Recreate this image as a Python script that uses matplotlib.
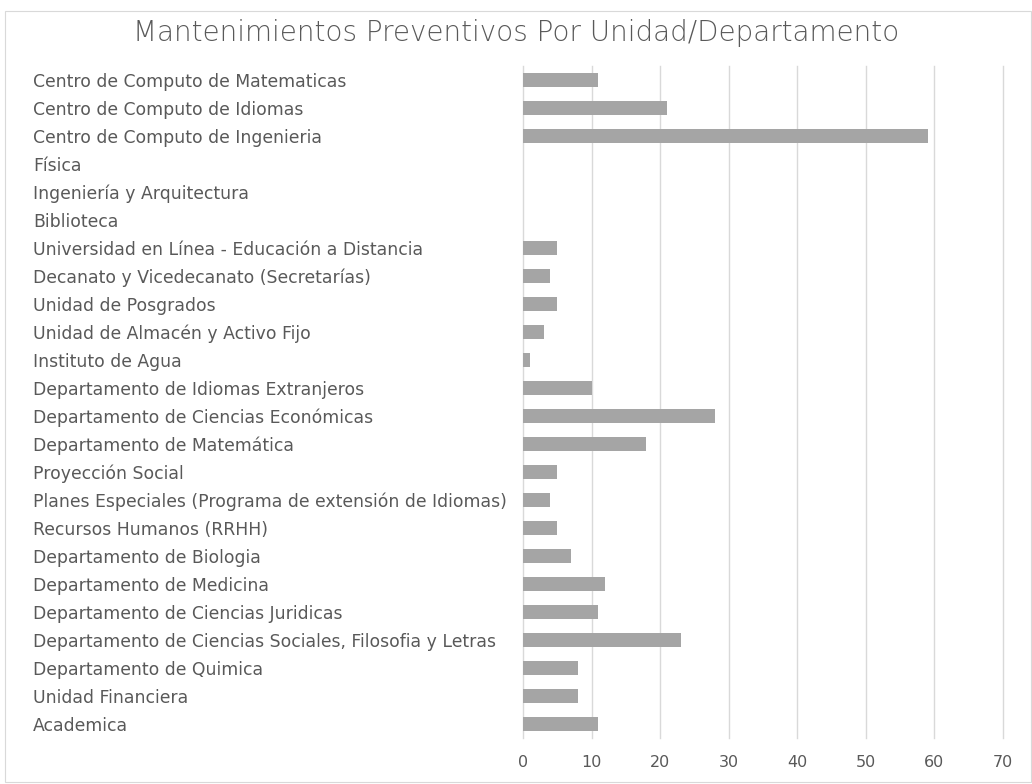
import matplotlib.pyplot as plt
from matplotlib.patches import Rectangle

# categories (top to bottom as shown)
categories = [
    "Centro de Computo de Matematicas",
    "Centro de Computo de Idiomas",
    "Centro de Computo de Ingenieria",
    "Física",
    "Ingeniería y Arquitectura",
    "Biblioteca",
    "Universidad en Línea - Educación a Distancia",
    "Decanato y Vicedecanato (Secretarías)",
    "Unidad de Posgrados",
    "Unidad de Almacén y Activo Fijo",
    "Instituto de Agua",
    "Departamento de Idiomas Extranjeros",
    "Departamento de Ciencias Económicas",
    "Departamento de Matemática",
    "Proyección Social",
    "Planes Especiales (Programa de extensión de Idiomas)",
    "Recursos Humanos (RRHH)",
    "Departamento de Biologia",
    "Departamento de Medicina",
    "Departamento de Ciencias Juridicas",
    "Departamento de Ciencias Sociales, Filosofia y Letras",
    "Departamento de Quimica",
    "Unidad Financiera",
    "Academica",
]
values = [11, 21, 59, 0, 0, 0, 5, 4, 5, 3, 1, 10, 28, 18, 5, 4, 5, 7, 12, 11, 23, 8, 8, 11]
xticks = [0, 10, 20, 30, 40, 50, 60, 70]

title = "Mantenimientos Preventivos Por Unidad/Departamento"

plt.rcParams['font.family'] = ['DejaVu Sans']

fig = plt.figure(figsize=(10.32, 7.84), dpi=100)
fig.patches.append(Rectangle((5 / 1032, 0.003), 1 - 6 / 1032, 1 - 11 / 784 - 0.003,
                             transform=fig.transFigure, fill=False,
                             edgecolor='#d9d9d9', linewidth=0.8))

ax = fig.add_axes([523 / 1032, 1 - 738 / 784, (1003 - 523) / 1032, (738 - 66) / 784])
ypos = list(range(len(categories)))
ax.barh(ypos, values, height=0.5, color='#a5a5a5', zorder=3)
ax.set_ylim(len(categories) - 0.5, -0.5)
ax.set_xlim(0, 70)
ax.set_xticks(xticks)
ax.set_xticklabels([str(t) for t in xticks], fontsize=11.5, color='#595959')
ax.set_yticks(ypos)
ax.set_yticklabels(categories, fontsize=12.4, color='#595959', ha='left')
ax.tick_params(axis='y', length=0, pad=(523 - 33) * 72 / 100)
ax.tick_params(axis='x', length=0, pad=12)
for s in ax.spines.values():
    s.set_visible(False)
ax.grid(axis='x', color='#d9d9d9', linewidth=1, zorder=0)
for gl in ax.get_xgridlines():
    gl.set_clip_on(False)
ax.set_axisbelow(True)

fig.text(0.5, 1 - 33 / 784, title, ha='center', va='center', fontsize=20,
         color='#595959', fontweight='light')

plt.savefig('out.png', dpi=100)
